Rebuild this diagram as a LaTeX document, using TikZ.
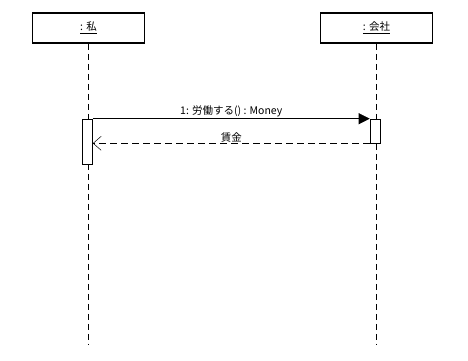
\documentclass[tikz,border=0pt]{standalone}
\usepackage{fontspec}
\setmainfont{Noto Sans CJK JP}
\usetikzlibrary{arrows.meta}
\begin{document}
\begin{tikzpicture}[x=1pt,y=-1pt,
  objbox/.style={draw,line width=1.6pt,minimum width=112pt,minimum height=30pt,inner sep=0pt,font=\fontsize{10.5}{12}\selectfont},
  lifeline/.style={draw,line width=0.6pt,dash pattern=on 6pt off 4pt},
  actbox/.style={draw,fill=white,line width=0.6pt,inner sep=0pt},
  msg/.style={draw,line width=0.6pt,-{Triangle[length=11pt,width=11pt]}},
  ret/.style={draw,line width=0.6pt,dash pattern=on 7pt off 4pt,-{Straight Barb[length=8pt,width=14pt,line width=0.5pt]}},
  lbl/.style={font=\fontsize{10.5}{12}\selectfont,inner sep=1pt}]
\useasboundingbox[fill=white] (0,0) rectangle (468,360);
\node[objbox] (me) at (88.5,28) {\underline{: 私}};
\node[objbox] (co) at (376.5,28) {\underline{: 会社}};
\coordinate (meEnd) at (88.5,345);
\coordinate (coEnd) at (376.5,345);
\draw[lifeline] (me.south) -- (meEnd);
\draw[lifeline] (co.south) -- (coEnd);
\node[actbox,minimum width=10pt,minimum height=45pt] (a1) at (87.5,141.5) {};
\node[actbox,minimum width=10pt,minimum height=24pt] (a2) at (375,131) {};
\draw[msg] (a1.north east) -- (a2.north west) node[lbl,midway,above=0pt] (l1) {1: 労働する() : Money};
\coordinate (r1) at (a1.east |- a2.south);
\draw[ret] (a2.south west) -- (r1) node[lbl,midway,above=0pt] (l2) {賃金};
\end{tikzpicture}
\end{document}
